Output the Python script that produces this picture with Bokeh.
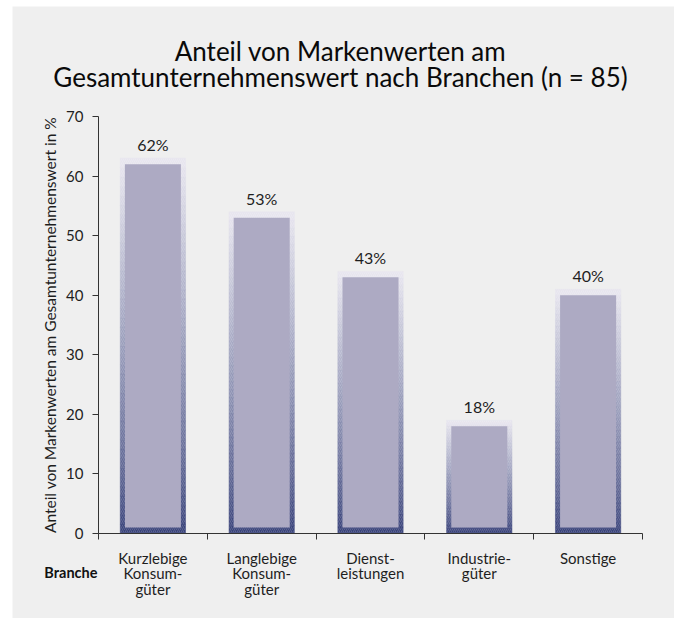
from bokeh.plotting import figure
from bokeh.models import FixedTicker, Range1d, Label, ColumnDataSource, Spacer
from bokeh.layouts import row, column
from bokeh.core.properties import value
from bokeh.embed import file_html
from bokeh.resources import INLINE

# ---- data ----
categories = ["Kurzlebige\nKonsum-\ngüter", "Langlebige\nKonsum-\ngüter",
              "Dienst-\nleistungen", "Industrie-\ngüter", "Sonstige"]
values = [62, 53, 43, 18, 40]
y_ticks = [0, 10, 20, 30, 40, 50, 60, 70]
title_lines = ["Anteil von Markenwerten am",
               "Gesamtunternehmenswert nach Branchen (n = 85)"]
y_label = "Anteil von Markenwerten am Gesamtunternehmenswert in %"
x_label = "Branche"
Y_MAX = 70

FONT = "Lato"
BG = "#efefef"
TXT = "#1e1e1e"
FILL = "#adaac3"
TOP_C = (0xe9, 0xe7, 0xf0)
BOT_C = (0x35, 0x3f, 0x78)

# ---- layout (pixels) ----
W, H = 662, 612
AX_L, AX_R, AX_T, AX_B = 86, 630, 110, 527   # axis box inside the figure
n = len(values)
pxx = (AX_R - AX_L) / n
pxy = (AX_B - AX_T) / Y_MAX
x_range = Range1d(-AX_L / pxx, n + (W - AX_R) / pxx)
y_range = Range1d(-(H - AX_B) / pxy, Y_MAX + AX_T / pxy)

centers = [i + 0.5 for i in range(n)]

p = figure(width=W, height=H, x_range=x_range, y_range=y_range,
           output_backend="svg", toolbar_location=None,
           min_border=0, min_border_left=0, min_border_right=0, min_border_top=0, min_border_bottom=0,
           background_fill_color=BG, border_fill_color=BG, outline_line_color=None)
p.title = None
p.grid.visible = False

# gradient frame bars, slices derived from the values
N = 40
L, R, B, T, C = [], [], [], [], []
for c, v in zip(centers, values):
    top = v + 1
    for k in range(N):
        t = ((k + 0.5) / N) ** 0.85
        col = tuple(int(BOT_C[j] + (TOP_C[j] - BOT_C[j]) * t) for j in range(3))
        L.append(c - 0.3); R.append(c + 0.3)
        B.append(top * k / N); T.append(top * (k + 1) / N)
        C.append("#%02x%02x%02x" % col)
frame_src = ColumnDataSource(dict(left=L, right=R, bottom=B, top=T, color=C))
p.quad(left="left", right="right", bottom="bottom", top="top", source=frame_src,
       fill_color="color", line_color="color", line_width=0.5,
       hatch_pattern="/", hatch_color="white", hatch_alpha=0.18, hatch_scale=4, hatch_weight=1)

src = ColumnDataSource(dict(x=centers, top=values, bottom=[1] * n,
                            label=[f"{v}%" for v in values],
                            ltop=[v + 1 for v in values]))
p.vbar(x="x", top="top", bottom="bottom", width=0.515, source=src,
       fill_color=FILL, line_color=None)
p.text(x="x", y="ltop", text="label", source=src, text_align="center", text_baseline="bottom",
       y_offset=-4, text_font=value(FONT), text_font_size="16px", text_color=TXT)

# axes (fixed inside the frame)
p.yaxis.fixed_location = 0
p.yaxis.bounds = (0, Y_MAX)
p.yaxis.ticker = FixedTicker(ticks=y_ticks)
p.yaxis.axis_label = y_label
p.yaxis.axis_label_text_font = FONT
p.yaxis.axis_label_text_font_size = "15.5px"
p.yaxis.axis_label_text_font_style = "normal"
p.yaxis.axis_label_text_color = TXT
p.yaxis.axis_label_standoff = 4
p.yaxis.major_label_standoff = 9
p.yaxis.major_tick_out = 6
p.yaxis.major_tick_in = 0
p.yaxis.minor_tick_line_color = None

p.xaxis.fixed_location = 0
p.xaxis.bounds = (0, n)
p.xaxis.ticker = FixedTicker(ticks=centers, minor_ticks=list(range(n + 1)))
p.xaxis.major_label_overrides = {c: lab for c, lab in zip(centers, categories)}
p.xaxis.major_tick_out = 0
p.xaxis.major_tick_in = 0
p.xaxis.minor_tick_out = 6
p.xaxis.minor_tick_in = 0
p.xaxis.major_label_standoff = 9
p.xaxis.major_label_text_line_height = 0.88

for ax in (p.xaxis, p.yaxis):
    ax.axis_line_color = "#333333"
    ax.major_tick_line_color = "#333333"
    ax.major_label_text_font = FONT
    ax.major_label_text_font_size = "15px"
    ax.major_label_text_color = TXT
p.xaxis.minor_tick_line_color = "#333333"
p.xaxis.major_label_text_font_size = "15px"

# title lines and "Branche" (screen units relative to frame bottom-left)
for txt, ypix in zip(title_lines, [44, 70]):
    p.add_layout(Label(x=328, y=H - ypix, x_units="screen", y_units="screen", text=txt,
                       text_align="center", text_baseline="middle", text_font=FONT,
                       text_font_size="26px", text_color="#0a0a0a"))
p.add_layout(Label(x=AX_L - 1, y=H - 566, x_units="screen", y_units="screen", text=x_label,
                   text_align="right", text_baseline="middle", text_font=FONT,
                   text_font_size="14.5px", text_font_style="bold", text_color="#111111"))

layout = row(Spacer(width=12, height=618), column(Spacer(width=W, height=6), p))
open("out.html", "w").write(file_html(layout, INLINE))
